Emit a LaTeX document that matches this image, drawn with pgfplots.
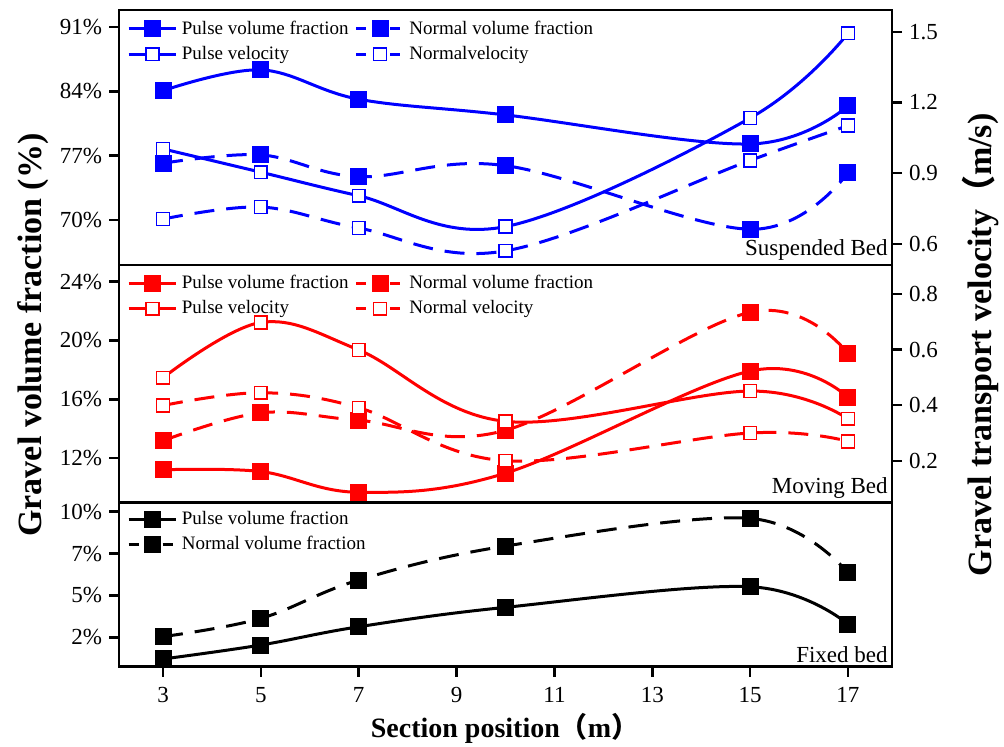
\documentclass[border=0pt]{standalone}
\usepackage{pgfplots}
\pgfplotsset{compat=1.18}
\usepackage{fontspec}
\setmainfont{Liberation Serif}
\newfontfamily\cjk{Noto Sans CJK SC}
\definecolor{myblue}{RGB}{0,0,255}
\definecolor{myred}{RGB}{255,0,0}
\pgfplotsset{
  base/.style={scale only axis, width=386.5pt, xmin=2.1, xmax=17.9, anchor=south west,
    axis line style={line width=1.25pt}, every tick/.style={black, line width=1.25pt},
    major tick length=5pt, tick align=outside,
    tick label style={font=\fontsize{11.5}{13}\selectfont},
    /pgf/number format/assume math mode=true},
  leg/.style={legend style={draw=none, fill=none, at={(0.01,0.975)}, anchor=north west,
    font=\fontsize{9.5}{11}\selectfont, inner sep=0pt, row sep=0.5pt,
    /tikz/every even column/.append style={column sep=1pt}},
    legend cell align=left,
    legend image code/.code={\draw[mark repeat=2,mark phase=2] plot coordinates {(0cm,0cm)(0.42cm,0cm)(0.84cm,0cm)};}},
  ln/.style={line width=1.5pt, smooth, tension=0.6},
  ds/.style={dash pattern=on 10pt off 6pt},
  lds/.style={dash pattern=on 5pt off 3.5pt},
  fm/.style={mark=square*, mark size=3.5pt, mark options={solid}},
  om/.style={mark=square*, mark size=3.2pt, mark options={solid, fill=white, line width=0.8pt}},
}
\begin{document}
\begin{tikzpicture}
\path[use as bounding box] (0,0) rectangle (502pt,373.5pt);
% ---------------- Top panel: Suspended Bed
\begin{axis}[base, at={(59.5pt,241pt)}, height=127.5pt, ymin=65.1, ymax=92.85,
  ytick={70,77,84,91}, yticklabels={70\%,77\%,84\%,91\%}, xtick=\empty, ytick pos=left,
  leg, legend columns=2]
\addplot[myblue, ln, fm, forget plot] coordinates {(3,84.07)(5,86.33)(7,83.14)(10,81.43)(15,78.27)(17,82.41)};
\addplot[myblue, ln, ds, fm, forget plot] coordinates {(3,76.17)(5,77.08)(7,74.71)(10,75.91)(15,68.99)(17,75.15)};
\addlegendimage{myblue, line width=1.5pt, fm}
\addlegendentry{Pulse volume fraction}
\addlegendimage{myblue, line width=1.5pt, lds, fm}
\addlegendentry{Normal volume fraction}
\addlegendimage{myblue, line width=1.5pt, om}
\addlegendentry{Pulse velocity}
\addlegendimage{myblue, line width=1.5pt, lds, om}
\addlegendentry{Normalvelocity}
\node[anchor=south east, inner sep=2pt, font=\fontsize{11.5}{13}\selectfont] at (rel axis cs:1,0) {Suspended Bed};
\end{axis}
\begin{axis}[base, at={(59.5pt,241pt)}, height=127.5pt, ymin=0.51, ymax=1.593,
  axis y line*=right, axis x line=none, ytick={0.6,0.9,1.2,1.5}, yticklabels={0.6,0.9,1.2,1.5}]
\addplot[myblue, ln, om] coordinates {(3,1.003)(5,0.904)(7,0.804)(10,0.673)(15,1.134)(17,1.494)};
\addplot[myblue, ln, ds, om] coordinates {(3,0.705)(5,0.756)(7,0.667)(10,0.570)(15,0.954)(17,1.102)};
\end{axis}
% ---------------- Middle panel: Moving Bed
\begin{axis}[base, at={(59.5pt,122.15pt)}, height=118.85pt, ymin=8.96, ymax=25.14,
  ytick={12,16,20,24}, yticklabels={12\%,16\%,20\%,24\%}, xtick=\empty, ytick pos=left,
  leg, legend columns=2]
\addplot[myred, ln, fm, forget plot] coordinates {(3,11.2)(5,11.08)(7,9.67)(10,10.97)(15,17.92)(17,16.14)};
\addplot[myred, ln, ds, fm, forget plot] coordinates {(3,13.18)(5,15.08)(7,14.57)(10,13.89)(15,21.92)(17,19.11)};
\addlegendimage{myred, line width=1.5pt, fm}
\addlegendentry{Pulse volume fraction}
\addlegendimage{myred, line width=1.5pt, lds, fm}
\addlegendentry{Normal volume fraction}
\addlegendimage{myred, line width=1.5pt, om}
\addlegendentry{Pulse velocity}
\addlegendimage{myred, line width=1.5pt, lds, om}
\addlegendentry{Normal velocity}
\node[anchor=south east, inner sep=2pt, font=\fontsize{11.5}{13}\selectfont] at (rel axis cs:1,0) {Moving Bed};
\end{axis}
\begin{axis}[base, at={(59.5pt,122.15pt)}, height=118.85pt, ymin=0.049, ymax=0.905,
  axis y line*=right, axis x line=none, ytick={0.2,0.4,0.6,0.8}, yticklabels={0.2,0.4,0.6,0.8}]
\addplot[myred, ln, om] coordinates {(3,0.499)(5,0.698)(7,0.599)(10,0.342)(15,0.451)(17,0.351)};
\addplot[myred, ln, ds, om] coordinates {(3,0.399)(5,0.445)(7,0.391)(10,0.200)(15,0.300)(17,0.270)};
\end{axis}
% ---------------- Bottom panel: Fixed bed
\begin{axis}[base, at={(59.5pt,40.15pt)}, height=82pt, ymin=0.745, ymax=10.54,
  ytick={2.5,5,7.5,10}, yticklabels={2\%,5\%,7\%,10\%}, ytick pos=left,
  xtick={3,5,7,9,11,13,15,17}, xticklabels={3,5,7,9,11,13,15,17}, xtick pos=lower,
  xticklabel style={yshift=-2pt},
  leg, legend columns=1]
\addplot[black, ln, fm, forget plot] coordinates {(3,1.205)(5,2.04)(7,3.13)(10,4.29)(15,5.52)(17,3.29)};
\addplot[black, ln, ds, fm, forget plot] coordinates {(3,2.54)(5,3.63)(7,5.92)(10,7.95)(15,9.6)(17,6.35)};
\addlegendimage{black, line width=1.5pt, fm}
\addlegendentry{Pulse volume fraction}
\addlegendimage{black, line width=1.5pt, lds, fm}
\addlegendentry{Normal volume fraction}
\node[anchor=south east, inner sep=2pt, font=\fontsize{11.5}{13}\selectfont] at (rel axis cs:1,0) {Fixed bed};
\end{axis}
% ---------------- Axis labels
\node[rotate=90, font=\bfseries\fontsize{17}{20}\selectfont] at (16.5pt,206pt) {Gravel volume fraction (\%)};
\node[rotate=90, font=\bfseries\fontsize{17}{20}\selectfont] at (490pt,201pt) {Gravel transport velocity{\cjk （}m/s)};
\node[anchor=base, font=\bfseries\fontsize{14}{16}\selectfont] at (252.5pt,4.5pt) {Section position{\cjk （}m{\cjk ）}};
\end{tikzpicture}
\end{document}
